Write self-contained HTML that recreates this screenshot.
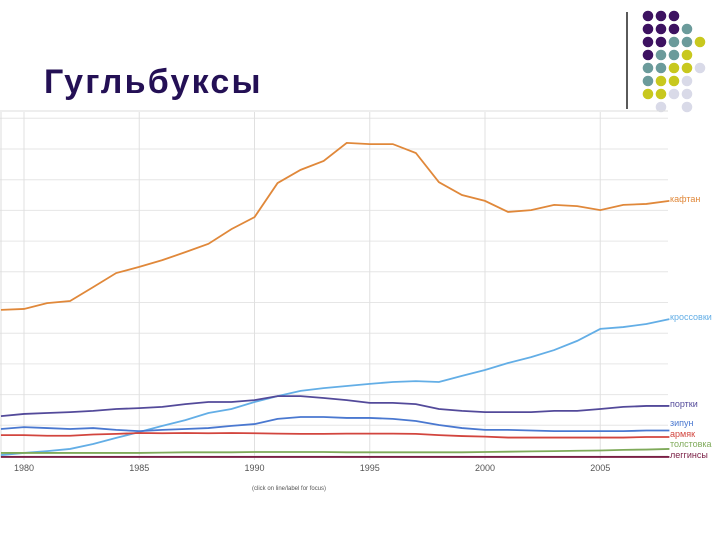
<!DOCTYPE html>
<html><head><meta charset="utf-8"><style>
body{margin:0;width:720px;height:540px;background:#fff;overflow:hidden;font-family:"Liberation Sans",sans-serif}
#title{position:absolute;left:44px;top:63px;font-size:34px;font-weight:bold;color:#241055;letter-spacing:2.2px}
svg{position:absolute;left:0;top:0}
</style></head><body>
<div id="title">Гугльбуксы</div>
<svg id="deco" width="720" height="540"></svg>
<svg id="chart" width="720" height="540"></svg>
<script>
const years=[1979,1980,1981,1982,1983,1984,1985,1986,1987,1988,1989,1990,1991,1992,1993,1994,1995,1996,1997,1998,1999,2000,2001,2002,2003,2004,2005,2006,2007,2008];
const xTicks=[1980,1985,1990,1995,2000,2005];
const kaftan=[4.76,4.79,4.98,5.05,5.5,5.96,6.16,6.38,6.64,6.91,7.39,7.78,8.89,9.32,9.61,10.2,10.16,10.16,9.87,8.92,8.5,8.31,7.95,8.01,8.18,8.14,8.01,8.18,8.21,8.31];
const krossovki=[0.03,0.1,0.16,0.23,0.39,0.59,0.78,0.98,1.17,1.4,1.53,1.76,1.95,2.12,2.21,2.28,2.35,2.41,2.44,2.41,2.61,2.8,3.03,3.22,3.45,3.75,4.14,4.2,4.3,4.46];
const portki=[1.3,1.37,1.4,1.43,1.47,1.53,1.56,1.6,1.69,1.76,1.76,1.82,1.95,1.95,1.89,1.82,1.73,1.73,1.69,1.53,1.47,1.43,1.43,1.43,1.47,1.47,1.53,1.6,1.63,1.63];
const zipun=[0.88,0.94,0.91,0.88,0.91,0.85,0.81,0.85,0.88,0.91,0.98,1.04,1.21,1.27,1.27,1.24,1.24,1.21,1.14,1.01,0.91,0.85,0.85,0.83,0.81,0.81,0.81,0.81,0.83,0.83];
const armyak=[0.68,0.68,0.66,0.66,0.7,0.72,0.75,0.74,0.75,0.74,0.75,0.74,0.73,0.72,0.72,0.73,0.73,0.73,0.72,0.68,0.65,0.63,0.6,0.6,0.6,0.6,0.6,0.6,0.62,0.62];
const tolstovka=[0.1,0.1,0.1,0.1,0.1,0.1,0.1,0.11,0.12,0.12,0.12,0.13,0.13,0.13,0.13,0.12,0.12,0.12,0.12,0.12,0.12,0.13,0.14,0.15,0.16,0.17,0.18,0.2,0.21,0.23];
const leggins=[-0.03,-0.03,-0.03,-0.03,-0.03,-0.03,-0.03,-0.03,-0.03,-0.03,-0.03,-0.03,-0.03,-0.03,-0.03,-0.03,-0.03,-0.03,-0.03,-0.03,-0.03,-0.03,-0.03,-0.03,-0.03,-0.03,-0.03,-0.03,-0.03,-0.03];
const seriesNames=["кафтан","кроссовки","портки","зипун","армяк","толстовка","леггинсы"];
const seriesColors=["#e0883a","#63aee6","#534a9a","#4a78d0","#d2453e","#7faa5a","#7a1f45"];
const labelY=[199,317,404,423,434,444,455];
const series=[kaftan,krossovki,portki,zipun,armyak,tolstovka,leggins];
const NS="http://www.w3.org/2000/svg";
const X=y=>24+(y-1980)*23.05;
const Y=v=>456-v*30.7;
const c=document.getElementById('chart');
function el(t,a,p){const e=document.createElementNS(NS,t);for(const k in a)e.setAttribute(k,a[k]);(p||c).appendChild(e);return e;}
const d=document.getElementById('deco');
el('line',{x1:627,y1:12,x2:627,y2:109,stroke:'#000','stroke-width':1.3},d);
const P='#3d1261',T='#6b9b9b',Yc='#c8c81e',L='#d9dae8';
const rows=[[P,P,P],[P,P,P,T],[P,P,T,T,Yc],[P,T,T,Yc],[T,T,Yc,Yc,L],[T,Yc,Yc,L],[Yc,Yc,L,L],[null,L,null,L]];
rows.forEach((r,i)=>r.forEach((col,j)=>{if(col)el('circle',{cx:648+j*13,cy:16+i*13,r:5.3,fill:col},d);}));
el('line',{x1:0,y1:111,x2:668,y2:111,stroke:'#ddd','stroke-width':1},d);
for(let g=0;g<=11;g++){const l=el('line',{x1:0,y1:Y(g),x2:668,y2:Y(g),stroke:'#e6e6e6','stroke-width':1});}
el('line',{x1:1,y1:112,x2:1,y2:458,stroke:'#ddd','stroke-width':1});
xTicks.forEach(t=>{
 const l=el('line',{x1:X(t),y1:112,x2:X(t),y2:460,stroke:'#e0e0e0','stroke-width':1});
 
 
 const tx=el('text',{x:X(t),y:471,'font-size':9,fill:'#555','text-anchor':'middle'});
 tx.textContent=t;
 
 
});
series.forEach((s,i)=>{
 const p=el('polyline',{points:s.map((v,k)=>X(years[k])+','+Y(v)).join(' '),fill:'none',stroke:seriesColors[i],'stroke-width':1.8});
 
 
 const t=el('text',{x:670,y:labelY[i]+3,'font-size':9,fill:seriesColors[i]});
 t.textContent=seriesNames[i];
 
 
});
const n=el('text',{x:252,y:490,'font-size':6,fill:'#555'});
n.textContent='(click on line/label for focus)';


</script>
</body></html>
